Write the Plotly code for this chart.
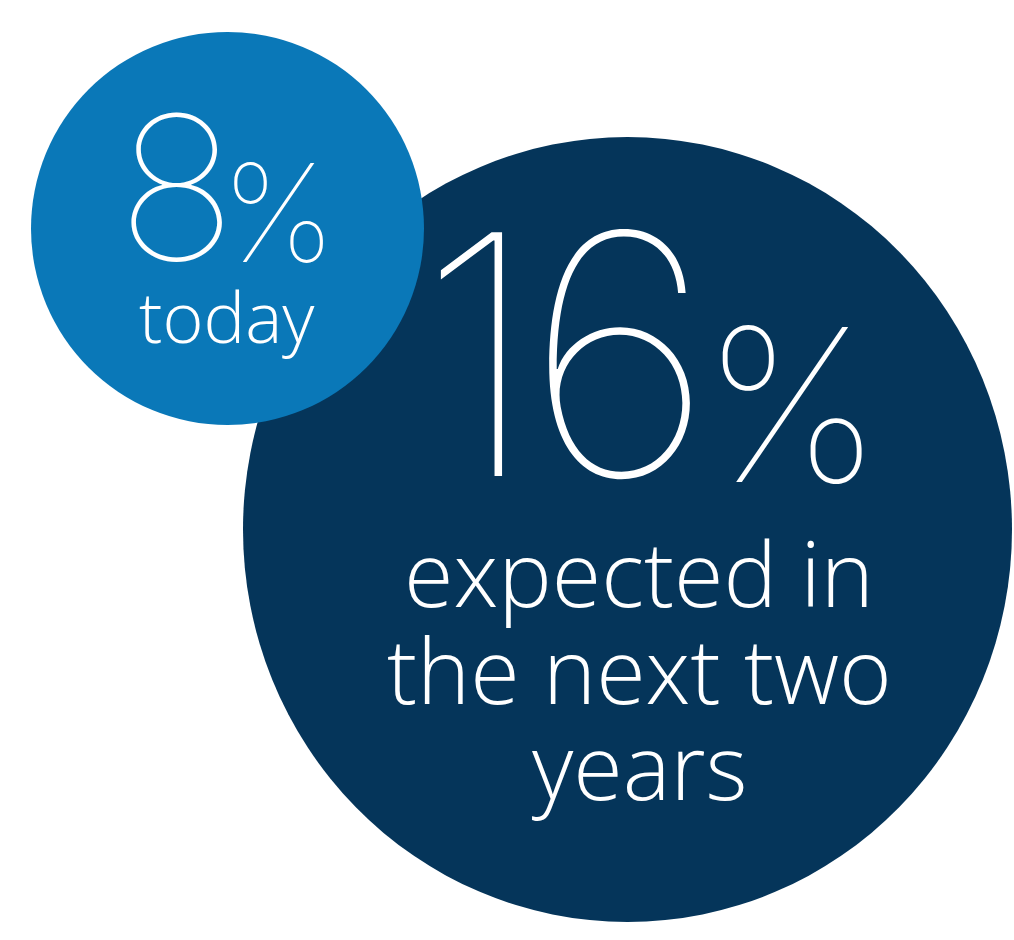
import plotly.graph_objects as go

# Data
values = [8, 16]
small_label = ["today"]
big_label = ["expected in", "the next two", "years"]
colors = ["#0a78b8", "#05355a"]

# Layout geometry (pixel-based axis coordinates)
W, H = 1014, 940
circles = [
    dict(x0=31, x1=424, y0=32, y1=425),     # small (8%)
    dict(x0=243, x1=1012, y0=137, y1=922),  # large (16%)
]

fig = go.Figure()
fig.add_trace(go.Scatter(x=[0, W], y=[0, H], mode="markers",
                         marker=dict(opacity=0), hoverinfo="skip", showlegend=False))

for i in [1, 0]:
    c = circles[i]
    fig.add_shape(type="circle", xref="x", yref="y",
                  x0=c["x0"], x1=c["x1"], y0=c["y0"], y1=c["y1"],
                  fillcolor=colors[i], line=dict(width=0), layer="above")

def ann(text, x, y, size, family="Inter", weight=100, xanchor="left"):
    fig.add_annotation(x=x, y=y, xref="x", yref="y", showarrow=False, text=text,
                       font=dict(family=family, color="white", size=size, weight=weight),
                       xanchor=xanchor, yanchor="middle")

# 8%
ann(str(values[0]), 115, 187, 200)
ann("%", 219, 212, 136)
ann(small_label[0], 227, 316, 70, family="Open Sans", weight=300, xanchor="center")

# 16% (digits placed individually for tighter spacing)
digit_x = [415, 523]
for ch, xx in zip(str(values[1]), digit_x):
    ann(ch, xx, 354, 335)
ann("%", 700, 404, 213)

for line, yy in zip(big_label, [572, 669, 765]):
    ann(line, 639, yy, 90, family="Open Sans", weight=300, xanchor="center")

fig.update_layout(
    width=W, height=H, autosize=False,
    margin=dict(l=0, r=0, t=0, b=0),
    paper_bgcolor="white", plot_bgcolor="white",
    xaxis=dict(range=[0, W], visible=False, fixedrange=True),
    yaxis=dict(range=[H, 0], visible=False, fixedrange=True),
    showlegend=False,
)
fig.write_html("out.html")
